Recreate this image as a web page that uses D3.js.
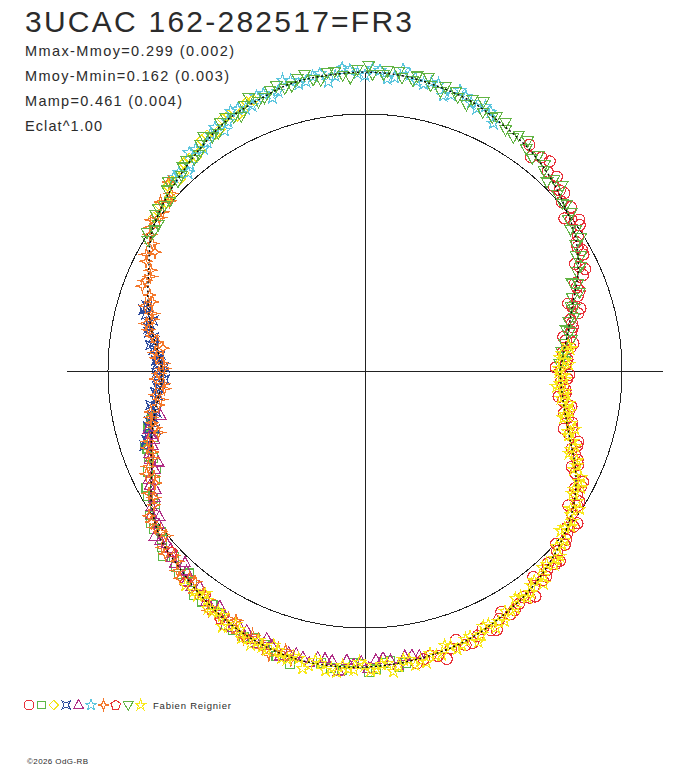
<!DOCTYPE html>
<meta charset="utf-8">
<style>
body { margin: 0; background: #fff; }
svg { display: block; }
.ax { stroke: #222; stroke-width: 1px; fill: none; shape-rendering: crispEdges; }
.mk { fill: none; stroke-width: 1.15px; shape-rendering: crispEdges; }
.mean { fill: none; stroke: #000; stroke-width: 1.4px; stroke-dasharray: 2,2.5; }
text { font-family: "Liberation Sans", Arial, sans-serif; fill: #2b2b2b; }
</style>
<body>
<script src="https://cdn.jsdelivr.net/npm/d3@7/dist/d3.min.js"></script>
<script>

// star name and stats
var title = "3UCAC 162-282517=FR3";
var statLines = ["Mmax-Mmoy=0.299 (0.002)", "Mmoy-Mmin=0.162 (0.003)", "Mamp=0.461 (0.004)", "Eclat^1.00"];
var observer = "Fabien Reignier";
var credit = "\u00a92026 OdG-RB";

// mean light curve: [phase, relative flux] (1 = reference circle)
var meanCurve = [
  [0.00,1.163],[0.02,1.158],[0.04,1.143],[0.06,1.127],[0.08,1.099],[0.10,1.075],
  [0.12,1.045],[0.14,1.008],[0.16,0.970],[0.18,0.917],[0.20,0.850],[0.22,0.804],
  [0.24,0.770],[0.25,0.759],[0.26,0.764],[0.28,0.790],[0.30,0.837],[0.32,0.906],
  [0.34,0.963],[0.36,1.004],[0.38,1.039],[0.40,1.070],[0.42,1.094],[0.44,1.118],
  [0.46,1.133],[0.48,1.144],[0.50,1.152],[0.52,1.155],[0.54,1.151],[0.56,1.135],
  [0.58,1.112],[0.60,1.083],[0.62,1.053],[0.64,1.030],[0.66,0.983],[0.68,0.918],
  [0.70,0.874],[0.72,0.831],[0.74,0.795],[0.75,0.790],[0.76,0.800],[0.78,0.845],
  [0.80,0.888],[0.82,0.930],[0.84,0.985],[0.86,1.020],[0.88,1.048],[0.90,1.080],
  [0.92,1.114],[0.94,1.133],[0.96,1.155],[0.98,1.160]
];

// observation sessions: [phase, relative flux]
var redCircles = [
  [0.100,1.088],[0.110,1.078],[0.118,1.052],[0.124,1.062],[0.131,1.033],[0.137,1.010],[0.143,1.024],
  [0.149,0.997],[0.155,1.010],[0.160,0.982],[0.166,0.957],[0.172,0.963],[0.178,0.928],
  [0.184,0.927],[0.190,0.886],[0.196,0.878],[0.202,0.843],[0.208,0.859],[0.214,0.826],
  [0.220,0.818],[0.226,0.790],[0.232,0.805],[0.238,0.780],[0.244,0.784],[0.250,0.760],
  [0.256,0.788],[0.262,0.774],[0.268,0.785],[0.274,0.778],[0.280,0.810],[0.286,0.810],
  [0.292,0.835],[0.298,0.835],[0.304,0.875],[0.310,0.878],[0.316,0.907],[0.322,0.910],
  [0.328,0.953],[0.334,0.954],[0.340,0.979],[0.346,0.978],[0.352,1.013],[0.358,1.009],
  [0.364,1.030],[0.370,1.025],[0.376,1.055],[0.382,1.050],[0.388,1.069],[0.394,1.064],
  [0.400,1.090],[0.407,1.086],[0.414,1.103],[0.421,1.098],[0.428,1.122],[0.436,1.120],
  [0.444,1.136],[0.452,1.131],[0.460,1.145],[0.468,1.144],
  [0.105,1.054],[0.115,1.087],[0.127,1.028],[0.134,1.039],[0.146,0.977],[0.152,1.020],
  [0.163,0.964],[0.169,0.967],[0.175,0.918],[0.181,0.944],[0.187,0.886],[0.193,0.891],
  [0.199,0.833],[0.205,0.873],[0.211,0.824],[0.217,0.826],[0.223,0.783],[0.229,0.818],
  [0.235,0.773],[0.241,0.789],[0.247,0.742],[0.253,0.795],[0.259,0.764],[0.265,0.784],
  [0.271,0.760],[0.277,0.815],[0.283,0.792],[0.289,0.831],[0.295,0.805],[0.301,0.875],
  [0.307,0.860],[0.313,0.896],[0.319,0.887],[0.325,0.952],[0.331,0.936],[0.337,0.976],
  [0.343,0.949],[0.349,1.017],[0.355,0.994],[0.361,1.021],[0.367,1.003],[0.373,1.058],
  [0.379,1.033],[0.385,1.066],[0.391,1.035],[0.397,1.100],[0.403,1.073],[0.411,1.098],
  [0.418,1.077],[0.425,1.130],[0.432,1.104],[0.440,1.138],[0.448,1.105],[0.456,1.165],
  [0.464,1.136],[0.472,1.155]
];
var greenSquares = [
  [0.478,1.148],[0.486,1.131],[0.494,1.162],[0.502,1.140],[0.512,1.166],[0.524,1.148],
  [0.548,1.160],[0.562,1.122],[0.575,1.131],[0.586,1.096],[0.598,1.099],[0.609,1.062],
  [0.618,1.071],[0.627,1.037],[0.636,1.046],[0.644,1.011],[0.652,1.022],[0.660,0.968],
  [0.667,0.975],[0.674,0.920],[0.681,0.932],[0.688,0.892],[0.695,0.900],[0.702,0.862],
  [0.710,0.870],[0.716,0.848],
  [0.482,1.160],[0.490,1.138],[0.498,1.171],[0.506,1.135],[0.518,1.163],[0.540,1.176],
  [0.556,1.134],[0.568,1.139],[0.580,1.127],[0.592,1.085],[0.604,1.097],[0.614,1.044],
  [0.622,1.059],[0.632,1.064],[0.640,1.025],[0.648,1.026],[0.656,1.009],[0.664,0.960],
  [0.672,0.964],[0.680,0.900],[0.690,0.905],[0.698,0.903],[0.706,0.856],[0.714,0.855]
];
var yellowDiamonds = [
  [0.858,1.028],[0.866,1.018],[0.874,1.052],[0.882,1.044],[0.890,1.074],[0.898,1.068],
  [0.906,1.104],[0.914,1.097],[0.922,1.128],[0.930,1.118],[0.938,1.142],
  [0.850,1.016],[0.862,1.012],[0.870,1.053],[0.878,1.037],[0.886,1.074],[0.894,1.060],
  [0.902,1.100],[0.910,1.090],[0.918,1.127],[0.926,1.110],[0.934,1.143]
];
var blueCrosses = [
  [0.698,0.905],[0.704,0.880],[0.710,0.870],[0.716,0.846],[0.722,0.842],[0.728,0.822],
  [0.734,0.821],[0.740,0.800],[0.745,0.808],[0.750,0.795],[0.755,0.808],[0.760,0.803],
  [0.766,0.826],[0.772,0.828],[0.778,0.854],[0.784,0.857],[0.790,0.880],[0.796,0.884],
  [0.701,0.891],[0.707,0.847],[0.713,0.861],[0.719,0.828],[0.725,0.846],[0.731,0.810],
  [0.737,0.809],[0.743,0.781],[0.748,0.811],[0.753,0.782],[0.758,0.813],[0.763,0.799],
  [0.769,0.842],[0.775,0.833],[0.781,0.858],[0.787,0.847],[0.793,0.893]
];
var purpleTriangles = [
  [0.470,1.128],[0.478,1.120],[0.486,1.131],[0.494,1.125],[0.502,1.132],[0.510,1.128],
  [0.518,1.135],[0.526,1.131],[0.534,1.140],[0.542,1.136],[0.552,1.128],[0.560,1.140],
  [0.568,1.110],[0.576,1.122],[0.584,1.094],[0.592,1.098],[0.600,1.068],[0.608,1.075],
  [0.616,1.043],[0.624,1.052],[0.632,1.025],[0.640,1.034],[0.648,1.000],[0.656,1.000],
  [0.664,0.955],[0.672,0.950],[0.680,0.903],[0.688,0.905],[0.696,0.875],[0.704,0.870],
  [0.474,1.121],[0.482,1.155],[0.490,1.118],[0.498,1.156],[0.506,1.141],[0.514,1.172],
  [0.522,1.130],[0.530,1.156],[0.538,1.132],[0.546,1.157],[0.556,1.109],[0.564,1.136],
  [0.572,1.111],[0.580,1.130],[0.588,1.076],[0.596,1.089],[0.604,1.057],[0.612,1.075],
  [0.620,1.023],[0.628,1.048],[0.636,1.022],[0.644,1.040],[0.652,0.980],[0.660,0.983],
  [0.668,0.936],[0.676,0.941],[0.684,0.879],[0.692,0.898],[0.700,0.862],[0.708,0.874],
  [0.716,0.814]
];
var cyanStars = [
  [0.880,1.058],[0.888,1.052],[0.896,1.085],[0.904,1.080],[0.912,1.112],[0.920,1.106],
  [0.928,1.133],[0.936,1.122],[0.944,1.148],[0.952,1.140],[0.960,1.165],[0.968,1.150],
  [0.976,1.170],[0.984,1.154],[0.992,1.172],[0.000,1.150],[0.008,1.171],[0.016,1.148],
  [0.024,1.166],[0.032,1.140],[0.040,1.152],[0.048,1.125],[0.056,1.138],[0.064,1.110],
  [0.072,1.120],
  [0.876,1.058],[0.884,1.033],[0.892,1.090],[0.900,1.070],[0.908,1.100],[0.916,1.083],
  [0.924,1.138],[0.932,1.121],[0.940,1.148],[0.948,1.123],[0.956,1.176],[0.964,1.146],
  [0.972,1.164],[0.980,1.135],[0.988,1.182],[0.996,1.158],[0.004,1.177],[0.012,1.141],
  [0.020,1.183],[0.028,1.145],[0.036,1.152],[0.044,1.114],[0.052,1.153],[0.060,1.122],
  [0.068,1.131],[0.076,1.085]
];
var orangeSparks = [
  [0.540,1.160],[0.548,1.135],[0.556,1.150],[0.564,1.118],[0.572,1.133],[0.580,1.100],
  [0.588,1.110],[0.596,1.079],[0.604,1.088],[0.612,1.055],[0.620,1.065],[0.628,1.034],
  [0.636,1.045],[0.644,1.012],[0.652,1.017],[0.660,0.972],[0.668,0.966],[0.676,0.918],
  [0.684,0.921],[0.692,0.884],[0.700,0.886],[0.708,0.846],[0.716,0.851],[0.724,0.814],
  [0.732,0.820],[0.740,0.786],[0.748,0.802],[0.756,0.786],[0.764,0.820],[0.772,0.815],
  [0.780,0.857],[0.788,0.852],[0.796,0.891],[0.804,0.888],[0.812,0.925],[0.820,0.921],
  [0.828,0.964],[0.836,0.965],[0.844,1.004],[0.852,0.998],[0.860,1.032],[0.868,1.023],
  [0.544,1.131],[0.552,1.165],[0.560,1.127],[0.568,1.141],[0.576,1.092],[0.584,1.112],
  [0.592,1.113],[0.600,1.071],[0.608,1.053],[0.616,1.081],[0.624,1.040],[0.632,1.053],
  [0.640,1.005],[0.648,1.019],[0.656,1.012],[0.664,0.958],[0.672,0.926],[0.680,0.940],
  [0.688,0.893],[0.696,0.899],[0.704,0.839],[0.712,0.853],[0.720,0.849],[0.728,0.804],
  [0.736,0.784],[0.744,0.815],[0.752,0.783],[0.760,0.814],[0.768,0.791],[0.776,0.840],
  [0.784,0.871],[0.792,0.858],[0.800,0.870],[0.808,0.927],[0.816,0.913],[0.824,0.953],
  [0.832,0.939],[0.840,0.990],[0.848,1.018],[0.856,1.002],[0.864,1.008],[0.872,1.060]
];
var redPentagons = [
  [0.566,1.140],[0.584,1.118],[0.598,1.075],[0.612,1.078],[0.630,1.030]
];
var greenTriangles = [
  [0.836,0.985],[0.844,0.985],[0.852,1.017],[0.860,1.012],[0.868,1.043],[0.876,1.036],
  [0.884,1.064],[0.892,1.058],[0.900,1.090],[0.908,1.087],[0.916,1.119],[0.924,1.111],
  [0.932,1.137],[0.940,1.126],[0.948,1.153],[0.956,1.143],[0.964,1.167],[0.972,1.151],
  [0.980,1.170],[0.988,1.154],[0.996,1.174],[0.004,1.155],[0.012,1.171],[0.020,1.150],
  [0.028,1.166],[0.036,1.140],[0.044,1.150],[0.052,1.124],[0.060,1.137],[0.068,1.106],
  [0.076,1.115],[0.084,1.086],[0.092,1.095],[0.100,1.068],[0.108,1.075],[0.116,1.045],
  [0.124,1.048],[0.132,1.016],[0.140,1.018],[0.148,0.986],[0.156,0.988],[0.164,0.955],
  [0.172,0.952],[0.180,0.910],[0.188,0.896],[0.196,0.855],[0.204,0.849],[0.212,0.815],
  [0.220,0.812],[0.228,0.783],[0.236,0.784],[0.244,0.758],
  [0.840,1.005],[0.848,0.985],[0.856,1.024],[0.864,1.006],[0.872,1.063],[0.880,1.043],
  [0.888,1.075],[0.896,1.063],[0.904,1.108],[0.912,1.087],[0.920,1.124],[0.928,1.102],
  [0.936,1.155],[0.944,1.133],[0.952,1.162],[0.960,1.145],[0.968,1.177],[0.976,1.144],
  [0.984,1.171],[0.992,1.142],[0.002,1.188],[0.010,1.156],[0.018,1.174],[0.026,1.145],
  [0.034,1.170],[0.042,1.126],[0.050,1.144],[0.058,1.108],[0.066,1.144],[0.074,1.104],
  [0.082,1.111],[0.090,1.077],[0.098,1.097],[0.106,1.053],[0.114,1.066],[0.122,1.021],
  [0.130,1.052],[0.138,1.007],[0.146,1.012],[0.154,0.971],[0.162,0.986],[0.170,0.935],
  [0.178,0.934],[0.186,0.875],[0.194,0.889],[0.202,0.840],[0.210,0.841],[0.218,0.798],
  [0.226,0.813],[0.234,0.767],[0.242,0.778]
];
var yellowStars = [
  [0.230,0.796],[0.236,0.770],[0.242,0.780],[0.248,0.755],[0.254,0.772],[0.260,0.758],
  [0.266,0.782],[0.272,0.770],[0.278,0.798],[0.284,0.794],[0.290,0.825],[0.296,0.822],
  [0.302,0.854],[0.308,0.857],[0.314,0.895],[0.320,0.898],[0.326,0.935],[0.332,0.936],
  [0.338,0.968],[0.344,0.964],[0.350,0.995],[0.356,0.989],[0.362,1.018],[0.368,1.012],
  [0.374,1.041],[0.380,1.032],[0.386,1.058],[0.392,1.049],[0.398,1.077],[0.404,1.068],
  [0.410,1.093],[0.416,1.082],[0.422,1.107],[0.428,1.097],[0.434,1.122],[0.440,1.111],
  [0.446,1.134],[0.452,1.121],[0.458,1.143],[0.464,1.129],[0.470,1.150],[0.476,1.136],
  [0.482,1.156],[0.488,1.141],[0.494,1.161],[0.500,1.146],[0.506,1.164],[0.512,1.150],
  [0.518,1.166],[0.524,1.150],[0.530,1.167],[0.536,1.148],[0.542,1.161],[0.548,1.140],
  [0.554,1.152],[0.560,1.130],[0.566,1.140],[0.572,1.118],[0.578,1.126],[0.584,1.102],
  [0.590,1.109],[0.596,1.084],[0.602,1.091],
  [0.233,0.803],[0.239,0.760],[0.245,0.793],[0.251,0.754],[0.257,0.777],[0.263,0.748],
  [0.269,0.781],[0.275,0.804],[0.281,0.812],[0.287,0.794],[0.293,0.848],[0.299,0.830],
  [0.305,0.869],[0.311,0.856],[0.317,0.903],[0.323,0.938],[0.329,0.955],[0.335,0.939],
  [0.341,0.994],[0.347,0.973],[0.353,1.005],[0.359,0.984],[0.365,1.022],[0.371,1.047],
  [0.377,1.054],[0.383,1.031],[0.389,1.080],[0.395,1.057],[0.401,1.086],[0.407,1.061],
  [0.413,1.094],[0.419,1.115],[0.425,1.121],[0.431,1.096],[0.437,1.143],[0.443,1.116],
  [0.449,1.140],[0.455,1.112],[0.461,1.142],[0.467,1.159],[0.473,1.161],[0.479,1.132],
  [0.485,1.174],[0.491,1.143],[0.497,1.166],[0.503,1.135],[0.509,1.162],[0.515,1.177],
  [0.521,1.175],[0.527,1.144],[0.533,1.182],[0.539,1.146],[0.545,1.163],[0.551,1.125],
  [0.557,1.146],[0.563,1.154],[0.569,1.146],[0.575,1.107],[0.581,1.139],[0.587,1.097],
  [0.593,1.109],[0.599,1.067],[0.605,1.084],[0.611,1.088]
];

var width = 688, height = 768;
var cx = 365, cy = 371, R = 257, axisLen = 298;

var svg = d3.select("body").append("svg")
    .attr("width", width)
    .attr("height", height);

// marker outlines
function poly(pts) {
    return "M" + pts.map(function(p) { return p[0].toFixed(2) + "," + p[1].toFixed(2); }).join("L") + "Z";
}
function star(n, ro, ri, rot) {
    var pts = [];
    for (var i = 0; i < 2 * n; i++) {
        var a = rot + i * Math.PI / n, r = i % 2 ? ri : ro;
        pts.push([r * Math.sin(a), -r * Math.cos(a)]);
    }
    return poly(pts);
}
function ngon(n, r) {
    var pts = [];
    for (var i = 0; i < n; i++) {
        var a = i * 2 * Math.PI / n;
        pts.push([r * Math.sin(a), -r * Math.cos(a)]);
    }
    return poly(pts);
}
var shapes = {
    circle: "M5.6,0A5.6,5.6 0 1,1 -5.6,0A5.6,5.6 0 1,1 5.6,0Z",
    square: poly([[-4.4, -4.4], [4.4, -4.4], [4.4, 4.4], [-4.4, 4.4]]),
    diamond: poly([[0, -5.2], [5.2, 0], [0, 5.2], [-5.2, 0]]),
    cross: star(4, 6.4, 2.3, Math.PI / 4),
    triangle: poly([[0, -6], [5.5, 4], [-5.5, 4]]),
    star: star(5, 6.3, 2.6, 0),
    spark: star(4, 6.3, 1.9, 0),
    pentagon: ngon(5, 5.6),
    invTriangle: poly([[-5.6, -4], [5.6, -4], [0, 6]]),
    star2: star(5, 6.3, 2.4, 0)
};

var series = [
    { data: redCircles, shape: "circle", color: "#e8323a" },
    { data: greenSquares, shape: "square", color: "#5cb848" },
    { data: yellowDiamonds, shape: "diamond", color: "#f2e41a" },
    { data: blueCrosses, shape: "cross", color: "#2f4c9e" },
    { data: purpleTriangles, shape: "triangle", color: "#b02e86" },
    { data: cyanStars, shape: "star", color: "#5cc6de" },
    { data: orangeSparks, shape: "spark", color: "#f4782c" },
    { data: redPentagons, shape: "pentagon", color: "#e8323a" },
    { data: greenTriangles, shape: "invTriangle", color: "#62b444" },
    { data: yellowStars, shape: "star2", color: "#f8e81a" }
];

var angle = d3.scaleLinear().domain([0, 1]).range([0, 2 * Math.PI]);
var radius = d3.scaleLinear().domain([0, 1]).range([0, R]);

var plot = svg.append("g").attr("transform", "translate(" + cx + "," + cy + ")");

// reference circle and cross hairs
plot.append("circle").attr("class", "ax").attr("r", radius(1));
plot.append("line").attr("class", "ax").attr("x1", -axisLen).attr("x2", axisLen);
plot.append("line").attr("class", "ax").attr("y1", -axisLen).attr("y2", axisLen);

function px(d) { return radius(d[1]) * Math.sin(angle(d[0])); }
function py(d) { return -radius(d[1]) * Math.cos(angle(d[0])); }

series.forEach(function(s) {
    plot.append("g").selectAll("path")
        .data(s.data)
      .enter().append("path")
        .attr("class", "mk")
        .attr("stroke", s.color)
        .attr("d", shapes[s.shape])
        .attr("transform", function(d) { return "translate(" + px(d).toFixed(1) + "," + py(d).toFixed(1) + ")"; });
});

// mean curve on top
var line = d3.lineRadial()
    .angle(function(d) { return angle(d[0]); })
    .radius(function(d) { return radius(d[1]); })
    .curve(d3.curveCatmullRomClosed);
plot.append("path").attr("class", "mean").attr("d", line(meanCurve));

// texts
svg.append("text")
    .attr("x", 25).attr("y", 32)
    .attr("font-size", 30)
    .attr("textLength", 387).attr("lengthAdjust", "spacing")
    .text(title);

var lens = [209, 204, 157, 77];
statLines.forEach(function(t, i) {
    svg.append("text")
        .attr("x", 25).attr("y", 56 + i * 25)
        .attr("font-size", 14.5)
        .attr("textLength", lens[i]).attr("lengthAdjust", "spacing")
        .text(t);
});

// legend
var leg = svg.append("g");
series.forEach(function(s, i) {
    leg.append("path")
        .attr("class", "mk")
        .attr("stroke", s.color)
        .attr("d", shapes[s.shape])
        .attr("transform", "translate(" + (29 + i * 12.4) + ",705) scale(0.9)");
});
leg.append("text")
    .attr("x", 153).attr("y", 709)
    .attr("font-size", 9.5)
    .attr("textLength", 78).attr("lengthAdjust", "spacing")
    .text(observer);

svg.append("text")
    .attr("x", 27).attr("y", 764)
    .attr("font-size", 8)
    .attr("textLength", 61).attr("lengthAdjust", "spacing")
    .text(credit);

</script>
</body>
